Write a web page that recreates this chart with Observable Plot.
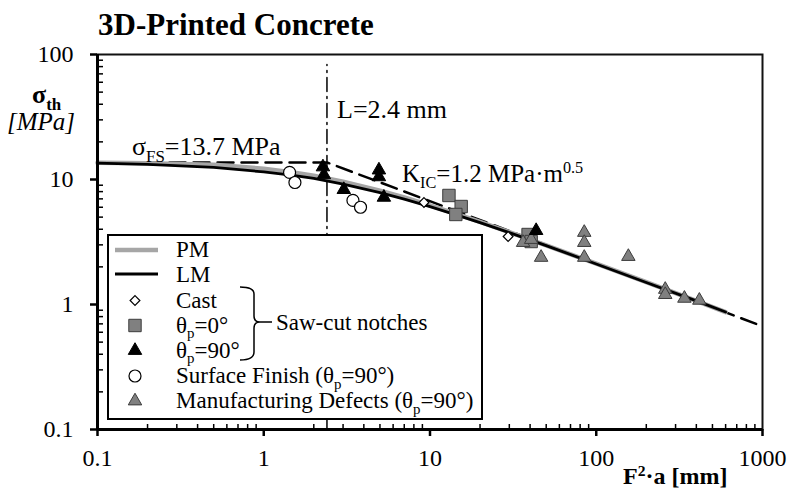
<!DOCTYPE html>
<html><head><meta charset="utf-8">
<script src="https://cdn.jsdelivr.net/npm/d3@7"></script>
<script src="https://cdn.jsdelivr.net/npm/@observablehq/plot@0.6"></script>
<style>
body{margin:0;background:#fff;}
#chart{width:789px;height:492px;}
#chart svg text, #chart svg tspan{font-family:"Liberation Serif","Times New Roman",serif;}
</style></head><body><div id="chart"></div>
<script>
// ---- data ----
const castX = [9.2, 29.5];
const castY = [6.55, 3.5];
const saw0X = [13.0, 15.4, 14.3, 38.9, 40.6];
const saw0Y = [7.45, 6.08, 5.25, 3.63, 3.19];
const saw90X = [2.27, 2.3, 3.03, 4.93, 4.93, 5.28, 43.5];
const saw90Y = [12.6, 10.9, 8.3, 11.9, 10.5, 7.2, 3.9];
const surfX = [1.43, 1.54, 3.44, 3.82];
const surfY = [11.4, 9.46, 6.8, 6.0];
const mfgX = [36.3, 40.6, 46.6, 84.7, 84.7, 84.7, 156, 260, 260, 339, 417];
const mfgY = [3.13, 3.31, 2.38, 3.77, 3.13, 2.38, 2.42, 1.32, 1.20, 1.12, 1.08];

const curveX = [0.1, 0.2, 0.5, 1, 1.5, 2, 3, 5, 7, 10, 15, 20, 30, 50, 100, 200, 400, 600];
const lmY = [13.5, 13.2, 12.5, 11.5, 10.8, 10.2, 9.2, 7.85, 6.97, 6.07, 5.12, 4.52, 3.76, 2.96, 2.11, 1.50, 1.07, 0.87];
const pmY = [13.6, 13.5, 13.1, 12.2, 11.4, 10.7, 9.6, 8.15, 7.18, 6.2, 5.21, 4.58, 3.79, 2.97, 2.12, 1.51, 1.07, 0.87];

const lefmX = [0.1, 2.4, 1000];
const lefmY = [13.7, 13.7, 0.67];
const lX = [2.4, 2.4];
const lY = [0.1, 83];

const xMajor = [0.1, 1, 10, 100, 1000];
const xMinor = [0.2,0.3,0.4,0.5,0.6,0.7,0.8,0.9,2,3,4,5,6,7,8,9,20,30,40,50,60,70,80,90,200,300,400,500,600,700,800,900];
const yMajor = [0.1, 1, 10, 100];
const yMinor = [0.2,0.3,0.4,0.5,0.6,0.7,0.8,0.9,2,3,4,5,6,7,8,9,20,30,40,50,60,70,80,90];

const W = 789, H = 492, ML = 97, MR = 27, MT = 54, MB = 63;
const PW = W - ML - MR, PH = H - MT - MB;
const FONT = "Liberation Serif, Times New Roman, serif";
const pts = (xs, ys) => xs.map((x, i) => ({x, y: ys[i]}));

const GRAY = "#808080", GRAYSTROKE = "#3c3c3c", PMCOL = "#a6a6a6";

const plot = Plot.plot({
  width: W, height: H,
  marginLeft: ML, marginRight: MR, marginTop: MT, marginBottom: MB,
  x: {type: "log", domain: [0.1, 1000]},
  y: {type: "log", domain: [0.1, 100]},
  style: {fontFamily: FONT, color: "black", background: "white", overflow: "visible"},
  marks: [
    Plot.line(pts(lX, lY), {x: "x", y: "y", stroke: "black", strokeWidth: 1.5, strokeDasharray: "14,5,2,5"}),
    Plot.line(pts(lefmX, lefmY), {x: "x", y: "y", stroke: "black", strokeWidth: 2.5, strokeDasharray: "16,8"}),
    Plot.line(pts(curveX, pmY), {x: "x", y: "y", stroke: PMCOL, strokeWidth: 4.5}),
    Plot.line(pts(curveX, lmY), {x: "x", y: "y", stroke: "black", strokeWidth: 2.8}),
    Plot.dot(pts(surfX, surfY), {x: "x", y: "y", symbol: "circle", r: 6, fill: "white", stroke: "black", strokeWidth: 1.2}),
    Plot.dot(pts(castX, castY), {x: "x", y: "y", symbol: "diamond2", r: 4.4, fill: "white", stroke: "black", strokeWidth: 1.2}),
    Plot.dot(pts(saw0X, saw0Y), {x: "x", y: "y", symbol: "square", r: 7, fill: GRAY, stroke: GRAYSTROKE, strokeWidth: 1}),
    Plot.dot(pts(mfgX, mfgY), {x: "x", y: "y", symbol: "triangle", r: 5, fill: GRAY, stroke: GRAYSTROKE, strokeWidth: 1}),
    Plot.dot(pts(saw90X, saw90Y), {x: "x", y: "y", symbol: "triangle", r: 5, fill: "black", stroke: "black", strokeWidth: 1}),
    Plot.frame({stroke: "#111", strokeWidth: 2}),
    Plot.ruleY(yMinor, {y: d => d, insetRight: PW - 6, stroke: "black", strokeWidth: 1.5}),
    Plot.ruleX(xMinor, {x: d => d, insetTop: PH - 5, stroke: "black", strokeWidth: 1.5}),
    Plot.ruleX([0.1], {stroke: "black", strokeWidth: 3}),
    Plot.ruleY([0.1], {stroke: "black", strokeWidth: 3}),
    Plot.axisY(yMajor, {anchor: "left", tickSize: 7, tickPadding: 17, tickFormat: d => String(d), fontSize: 24, strokeWidth: 2.5, label: null}),
    Plot.axisX(xMajor, {anchor: "bottom", tickSize: 7, tickPadding: 12, tickFormat: d => String(d), fontSize: 24, strokeWidth: 2.5, label: null})
  ]
});
document.getElementById("chart").appendChild(plot);

const svg = d3.select(plot);
function rich(x, y, size, parts, opts = {}) {
  const t = svg.append("text").attr("x", x).attr("y", y).attr("font-size", size)
    .attr("font-family", FONT).attr("fill", "black")
    .attr("text-anchor", opts.anchor || "start")
    .attr("font-weight", opts.weight || "normal").attr("font-style", opts.style || "normal");
  let off = 0;
  parts.forEach(p => {
    const [txt, mode] = typeof p === "string" ? [p, "n"] : p;
    const target = mode === "sub" ? size * 0.25 : mode === "sup" ? -size * 0.35 : 0;
    const s = t.append("tspan").text(txt).attr("dy", target - off);
    if (mode !== "n") s.attr("font-size", size * 0.65);
    off = target;
  });
  return t;
}

// title
rich(98, 35, 31, ["3D-Printed Concrete"], {weight: "bold"});
// y title
rich(32, 103, 26, ["σ", ["th", "sub"]], {weight: "bold"});
rich(7, 130, 25, ["[MPa]"], {style: "italic"});
// x title
rich(623, 484, 24, ["F", ["2", "sup"], "·a [mm]"], {weight: "bold"});

// annotations
rich(132, 155, 26, ["σ", ["FS", "sub"], "=13.7 MPa"]);
rich(337, 118, 26, ["L=2.4 mm"]);
rich(402, 182, 25, ["K", ["IC", "sub"], "=1.2 MPa·m", ["0.5", "sup"]]);

// legend
const lg = svg.append("g");
lg.append("rect").attr("x", 108).attr("y", 235).attr("width", 374).attr("height", 184)
  .attr("fill", "white").attr("stroke", "black").attr("stroke-width", 2);
const rows = [250, 275, 300.5, 325.5, 350.5, 376, 401];
const mx = 135, tx = 176;
lg.append("line").attr("x1", 115).attr("x2", 158).attr("y1", rows[0]).attr("y2", rows[0]).attr("stroke", PMCOL).attr("stroke-width", 4.5);
lg.append("line").attr("x1", 115).attr("x2", 158).attr("y1", rows[1] - 1).attr("y2", rows[1] - 1).attr("stroke", "black").attr("stroke-width", 2.8);
const sym = (type, r) => d3.symbol(type, Math.PI * r * r)();
const legendMarks = [
  [d3.symbolDiamond2, 4.4, "white", "black", 1.2],
  [d3.symbolSquare, 7, GRAY, GRAYSTROKE, 1],
  [d3.symbolTriangle, 5, "black", "black", 1],
  [d3.symbolCircle, 6, "white", "black", 1.2],
  [d3.symbolTriangle, 5, GRAY, GRAYSTROKE, 1]
];
legendMarks.forEach((m, i) => {
  lg.append("path").attr("d", sym(m[0], m[1])).attr("transform", `translate(${mx},${rows[i + 2]})`)
    .attr("fill", m[2]).attr("stroke", m[3]).attr("stroke-width", m[4]);
});
const labels = [
  ["PM"], ["LM"], ["Cast"],
  ["θ", ["p", "sub"], "=0°"],
  ["θ", ["p", "sub"], "=90°"],
  ["Surface Finish (θ", ["p", "sub"], "=90°)"],
  ["Manufacturing Defects (θ", ["p", "sub"], "=90°)"]
];
labels.forEach((parts, i) => rich(tx, rows[i] + 7, 23, parts));
// brace
svg.append("path")
  .attr("d", "M240,287 Q254,287 254,294 L254,316 Q254,322 260,322 Q254,322 254,328 L254,352 Q254,360 240,360 M258,322 L272,322")
  .attr("fill", "none").attr("stroke", "black").attr("stroke-width", 1.5);
rich(276, 330, 23, ["Saw-cut notches"]);
</script></body></html>
